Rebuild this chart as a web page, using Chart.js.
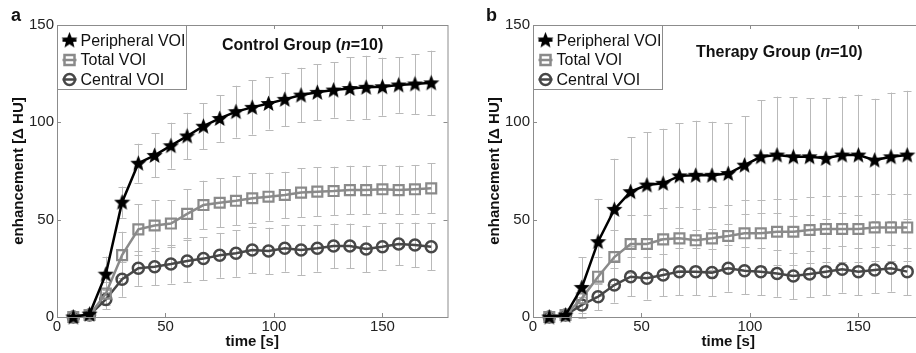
<!DOCTYPE html>
<html>
<head>
<meta charset="utf-8">
<script src="https://cdn.jsdelivr.net/npm/chart.js@4/dist/chart.umd.min.js"></script>
<style>
  html, body { margin: 0; padding: 0; background: #fff; overflow: hidden; width: 916px; height: 353px; }
  .panel { position: absolute; top: 0; width: 458px; height: 353px; }
</style>
</head>
<body>
<div class="panel" style="left:0px"><canvas id="grafA" width="458" height="353"></canvas></div>
<div class="panel" style="left:476px"><canvas id="grafB" width="458" height="353"></canvas></div>
<script>
// time points [s]
const tiempos = [7.5, 15, 22.5, 30, 37.5, 45, 52.5, 60, 67.5, 75, 82.5, 90, 97.5, 105, 112.5, 120, 127.5, 135, 142.5, 150, 157.5, 165, 172.5];
const xTicks = [0, 50, 100, 150];
const yTicks = [0, 50, 100, 150];
const etiquetas = ["Peripheral VOI", "Total VOI", "Central VOI"];

// control group
const periA = [0, 1.5, 22, 59, 79, 83, 88, 93, 98, 102, 105.5, 107.7, 109.7, 111.8, 114, 115.4, 116.6, 117.4, 118, 118.3, 119.2, 119.7, 120.3];
const totalA = [0, 1, 12, 31.8, 45, 47, 48, 53, 57.5, 58.7, 59.7, 61, 61.8, 62.7, 63.9, 64.4, 64.7, 65.2, 65.2, 65.6, 65.2, 65.6, 66.1];
const centralA = [0, 1, 9, 19.4, 25, 25.8, 27.2, 28.8, 30, 31.7, 32.7, 34.4, 33.9, 35.3, 34.4, 35.3, 36.5, 36.5, 34.9, 36.1, 37.5, 37, 36.1];
const periErrA = [0.5, 2, 9, 8, 10, 11.3, 11.8, 11.9, 11.7, 12, 13.3, 14, 13.4, 13.7, 14, 14.4, 14.2, 16, 16.2, 14.9, 14.3, 15.4, 16.5];
const totalErrA = [0.5, 1.5, 6, 12, 13, 13, 12, 12.5, 12.5, 12.5, 12.5, 12.8, 12.3, 11.9, 12.5, 12.5, 12.5, 12.5, 12.5, 12.4, 12.5, 12.5, 12.8];
const centralErrA = [0.5, 1, 5, 9, 9, 9.5, 10, 11, 11, 11.5, 12, 12, 12, 12, 12.8, 12, 11.5, 11.5, 12, 12, 10.8, 11.5, 12];

// therapy group
const periB = [0, 1, 15.2, 38.7, 55.3, 64.4, 67.8, 68.7, 72.5, 72.8, 72.8, 73.7, 78, 82.3, 83.2, 82.3, 82.3, 81.5, 83.2, 83.2, 80.6, 82.3, 83.2];
const totalB = [0, 1, 9.6, 20.7, 30.8, 37.5, 37.5, 39.9, 40.4, 39.4, 40.4, 41.6, 43, 43, 43.8, 43.8, 44.7, 45.2, 45.2, 45.2, 46, 46, 46];
const centralB = [0, 1, 6.2, 10.4, 16.4, 20.7, 19.9, 21.6, 23.3, 23.3, 22.8, 25, 23.8, 23.3, 22.4, 21.1, 22.1, 23.3, 24.5, 23.3, 24.1, 25, 23.3];
const periErrB = [0.5, 2, 15.5, 22, 26, 28, 27, 28, 27, 28, 27.5, 26, 25, 29, 30, 30.5, 30, 31, 30, 31, 31.5, 33, 33];
const totalErrB = [0.5, 1.5, 6, 10, 14, 15, 15, 16, 16, 16, 16, 16, 17, 17, 17, 17, 17, 17, 17, 17, 17, 17, 17];
const centralErrB = [0.5, 1, 4, 7, 9, 10, 11, 11, 12, 12, 12, 12, 12, 12, 12, 12, 12, 12, 12, 12, 12, 12, 12];

const FUENTE = "'Liberation Sans', Arial, sans-serif";
const colorEje = "#8c8c8c";
const colorError = "#b9b9b9";

function hacerEstrella(tam) {
    const c = document.createElement("canvas");
    c.width = tam; c.height = tam;
    const g = c.getContext("2d");
    g.beginPath();
    for (let i = 0; i < 10; i++) {
        const r = i % 2 ? tam * 0.22 : tam * 0.5;
        const a = -Math.PI / 2 + i * Math.PI / 5;
        g.lineTo(tam / 2 + r * Math.cos(a), tam / 2 + 0.5 + r * Math.sin(a));
    }
    g.closePath();
    g.fillStyle = "#000";
    g.fill();
    return c;
}
const estrella = hacerEstrella(17);

// error bars, box with inner ticks, legend and title
const extras = {
    id: "extras",
    beforeDatasetsDraw(chart) {
        const ctx = chart.ctx;
        const xs = chart.scales.x, ys = chart.scales.y;
        ctx.save();
        ctx.strokeStyle = colorError;
        ctx.lineWidth = 1;
        chart.data.datasets.forEach(ds => {
            ds.data.forEach((p, i) => {
                const e = ds.errores[i];
                const px = Math.round(xs.getPixelForValue(p.x)) + 0.5;
                const y1 = ys.getPixelForValue(p.y + e);
                const y2 = ys.getPixelForValue(p.y - e);
                ctx.beginPath();
                ctx.moveTo(px, y1); ctx.lineTo(px, y2);
                ctx.moveTo(px - 4, Math.round(y1) + 0.5); ctx.lineTo(px + 4, Math.round(y1) + 0.5);
                ctx.moveTo(px - 4, Math.round(y2) + 0.5); ctx.lineTo(px + 4, Math.round(y2) + 0.5);
                ctx.stroke();
            });
        });
        ctx.restore();
    },
    afterDraw(chart, args, opts) {
        const ctx = chart.ctx;
        const a = chart.chartArea;
        const xs = chart.scales.x, ys = chart.scales.y;
        ctx.save();
        // axes box
        ctx.strokeStyle = colorEje;
        ctx.lineWidth = 1;
        ctx.strokeRect(a.left + 0.5, a.top + 0.5, a.right - a.left, a.bottom - a.top);
        ctx.beginPath();
        xTicks.forEach(v => {
            const px = Math.round(xs.getPixelForValue(v)) + 0.5;
            ctx.moveTo(px, a.bottom); ctx.lineTo(px, a.bottom - 4);
            ctx.moveTo(px, a.top); ctx.lineTo(px, a.top + 4);
        });
        yTicks.forEach(v => {
            const py = Math.round(ys.getPixelForValue(v)) + 0.5;
            ctx.moveTo(a.left, py); ctx.lineTo(a.left + 4, py);
            ctx.moveTo(a.right, py); ctx.lineTo(a.right - 4, py);
        });
        ctx.stroke();

        // legend
        const lx = a.left + 0.5, ly = a.top + 0.5;
        ctx.fillStyle = "#fff";
        ctx.fillRect(lx, ly, 129, 64);
        ctx.strokeStyle = colorEje;
        ctx.strokeRect(lx, ly, 129, 64);
        ctx.font = "16px " + FUENTE;
        ctx.textBaseline = "middle";
        chart.data.datasets.forEach((ds, i) => {
            const cy = ly + 15 + i * 19.5;
            const cx = lx + 12;
            ctx.strokeStyle = ds.borderColor;
            ctx.lineWidth = 2.5;
            ctx.beginPath();
            ctx.moveTo(cx - 7, cy); ctx.lineTo(cx + 7, cy);
            ctx.stroke();
            if (ds.pointStyle === "rect") {
                ctx.strokeRect(cx - 5, cy - 5, 10, 10);
            } else if (ds.pointStyle === "circle") {
                ctx.beginPath();
                ctx.arc(cx, cy, 5.5, 0, Math.PI * 2);
                ctx.stroke();
            } else {
                ctx.drawImage(ds.pointStyle, cx - 8.5, cy - 9);
            }
            ctx.fillStyle = "#111";
            ctx.fillText(ds.label, lx + 23, cy + 1);
        });

        // title with italic n
        const partes = [["bold", opts.grupo + " Group ("], ["italic bold", "n"], ["bold", "=10)"]];
        let tx = opts.tituloX;
        ctx.fillStyle = "#111";
        ctx.textBaseline = "alphabetic";
        partes.forEach(([estilo, texto]) => {
            ctx.font = estilo + " 16px " + FUENTE;
            ctx.fillText(texto, tx, opts.tituloY);
            tx += ctx.measureText(texto).width;
        });

        // panel letter
        ctx.font = "bold 18px " + FUENTE;
        ctx.fillText(opts.letra, opts.letraX, 21);
        ctx.restore();
    }
};

function crearPanel(id, letra, letraX, grupo, tituloX, tituloY, peri, total, central, eP, eT, eC) {
    const puntos = vals => vals.map((v, i) => ({ x: tiempos[i], y: v }));
    const fuenteTick = { family: FUENTE, size: 15 };
    const fuenteTitulo = { family: FUENTE, size: 15, weight: "bold" };
    return new Chart(document.getElementById(id).getContext("2d"), {
        type: "line",
        data: {
            datasets: [
                {
                    label: etiquetas[0], data: puntos(peri), errores: eP,
                    borderColor: "#000", borderWidth: 2.5,
                    pointStyle: estrella, pointRadius: 8, clip: false
                },
                {
                    label: etiquetas[1], data: puntos(total), errores: eT,
                    borderColor: "#8a8a8a", borderWidth: 2.5,
                    pointStyle: "rect", pointRadius: 7, pointBorderWidth: 2.2,
                    pointBackgroundColor: "rgba(0,0,0,0)", clip: false
                },
                {
                    label: etiquetas[2], data: puntos(central), errores: eC,
                    borderColor: "#474747", borderWidth: 2.5,
                    pointStyle: "circle", pointRadius: 5.5, pointBorderWidth: 2.5,
                    pointBackgroundColor: "rgba(0,0,0,0)", clip: false
                }
            ]
        },
        options: {
            responsive: false,
            animation: false,
            devicePixelRatio: 1,
            layout: { padding: { left: 0, top: 25, right: 6, bottom: 0 } },
            elements: { line: { tension: 0 } },
            plugins: {
                legend: { display: false },
                tooltip: { enabled: false },
                extras: { letra: letra, letraX: letraX, grupo: grupo, tituloX: tituloX, tituloY: tituloY }
            },
            scales: {
                x: {
                    type: "linear", min: 0, max: 180,
                    afterBuildTicks: s => { s.ticks = xTicks.map(v => ({ value: v })); },
                    afterFit: s => { s.height = 36; },
                    grid: { display: false, drawTicks: false, tickLength: 0 },
                    border: { display: false },
                    ticks: { font: fuenteTick, color: "#222", padding: 1, maxRotation: 0 },
                    title: { display: true, text: "time [s]", font: fuenteTitulo, color: "#111", padding: { top: 0, bottom: 2 } }
                },
                y: {
                    type: "linear", min: 0, max: 150,
                    afterBuildTicks: s => { s.ticks = yTicks.map(v => ({ value: v })); },
                    afterFit: s => { s.width = 57; },
                    grid: { display: false, drawTicks: false, tickLength: 0 },
                    border: { display: false },
                    ticks: { font: fuenteTick, color: "#222", padding: 3 },
                    title: { display: true, text: "enhancement [\u0394 HU]", font: fuenteTitulo, color: "#111", padding: { top: 10, bottom: 0 } }
                }
            }
        },
        plugins: [extras]
    });
}

crearPanel("grafA", "a", 11, "Control", 222, 50, periA, totalA, centralA, periErrA, totalErrA, centralErrA);
crearPanel("grafB", "b", 10, "Therapy", 220, 57, periB, totalB, centralB, periErrB, totalErrB, centralErrB);
</script>
</body>
</html>
